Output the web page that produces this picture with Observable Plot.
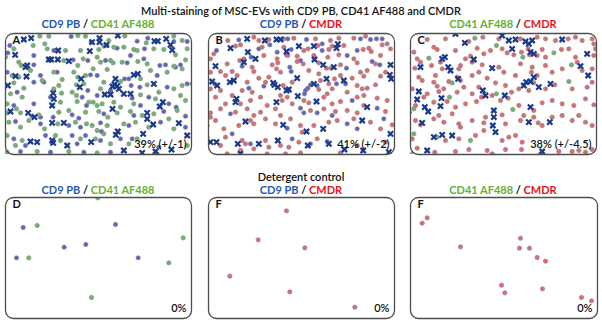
<!DOCTYPE html>
<html><head><meta charset="utf-8">
<script src="https://cdn.jsdelivr.net/npm/d3@7"></script>
<script src="https://cdn.jsdelivr.net/npm/@observablehq/plot@0.6"></script>
<style>
body{margin:0;background:#fff;}
#root{position:relative;width:602px;height:324px;background:#fff;font-family:Lato,"Open Sans",sans-serif;overflow:hidden}
.t{position:absolute;text-align:center;font-weight:700;white-space:nowrap;line-height:13px}
.p{position:absolute}
.bl{color:#1f5bb4}.gr{color:#66b032}.rd{color:#e8131b}.bk{color:#111}
</style></head><body>
<div id="root"></div>
<script>
// ---- titles ----
const mainTitle = "Multi-staining of MSC-EVs with CD9 PB, CD41 AF488 and CMDR";
const rowTitle2 = "Detergent control";
const panelLetters = ["A","B","C","D","F","F"];
const panelPercents = ["39% (+/-1)","41% (+/-2)","38% (+/-4.5)","0%","0%","0%"];
const stainPairs = [["CD9 PB","CD41 AF488"],["CD9 PB","CMDR"],["CD41 AF488","CMDR"]];

// ---- field coordinates of detected vesicles (per panel) ----
// Panel A: CD9 PB (blue), CD41 AF488 (green), co-localised (cross)
const aBlue = [[212,33],[272,50],[410,47],[442,38],[520,48],[560,48],[28,60],[22,82],[100,90],[160,75],[318,60],[350,68],[390,90],[432,70],
[100,118],[218,103],[262,105],[315,105],[380,112],[430,100],[478,120],[495,118],[540,118],[20,140],[120,150],[130,170],[170,140],[270,148],[290,150],
[372,160],[385,160],[470,150],[525,125],[560,175],[100,170],[262,195],[330,195],[392,180],[418,185],[500,185],[50,200],[150,215],[245,215],[290,210],
[395,218],[445,215],[505,235],[527,245],[40,240],[100,235],[258,240],[420,240],[95,272],[120,275],[158,275],[215,268],[235,278],[310,265],[400,270],
[490,258],[555,272],[45,288],[120,295],[205,300],[240,305],[300,292],[385,300],[480,290],[555,305],[303,318],[40,340],[75,360],[135,330],[215,330],
[230,355],[255,330],[300,345],[360,340],[395,340],[475,365],[60,378],[150,380],[250,380],[330,380]];
const aGreen = [[118,32],[145,32],[232,30],[255,32],[325,45],[373,32],[437,52],[545,45],[520,32],[40,70],[98,60],[133,55],[140,70],[195,75],[240,75],
[248,100],[295,72],[310,62],[340,65],[370,65],[400,72],[410,75],[460,70],[490,72],[525,88],[560,70],[190,105],[15,95],[55,110],[62,120],[232,120],
[290,95],[300,110],[330,105],[338,112],[365,110],[412,108],[440,115],[520,122],[555,103],[35,150],[55,155],[90,135],[160,140],[185,162],[220,140],
[232,155],[255,150],[278,130],[310,170],[320,132],[420,160],[450,135],[500,140],[545,130],[40,172],[70,188],[125,165],[160,190],[175,180],[228,178],
[250,175],[300,190],[360,168],[440,178],[475,200],[520,190],[545,180],[575,175],[30,205],[65,215],[183,203],[215,200],[228,210],[278,230],[420,208],
[465,220],[540,210],[555,225],[20,235],[180,230],[230,228],[265,230],[290,240],[305,235],[340,230],[360,245],[400,235],[18,262],[48,250],[60,262],
[115,268],[175,260],[205,255],[255,260],[295,258],[322,275],[350,262],[390,258],[425,270],[460,265],[505,280],[530,255],[25,290],[60,305],[85,285],
[132,310],[172,295],[225,290],[258,295],[275,300],[320,300],[370,295],[405,290],[445,305],[520,310],[290,315],[20,330],[45,360],[65,345],[165,330],
[180,345],[240,340],[285,340],[310,325],[330,355],[385,355],[410,340],[20,380],[110,378],[205,378],[290,382],[470,385],[560,360]];
const aCross = [[70,42],[92,38],[275,50],[297,38],[297,50],[352,30],[462,47],[472,47],[497,40],[510,58],[515,74],[173,75],[268,77],[318,58],[44,88],
[145,102],[152,102],[172,102],[205,107],[75,125],[80,120],[45,152],[78,153],[242,160],[238,185],[345,160],[342,177],[350,182],[336,183],[355,190],
[400,148],[412,145],[460,175],[22,180],[158,203],[160,220],[313,207],[330,207],[370,205],[390,205],[487,230],[478,243],[155,240],[30,258],[83,262],
[102,275],[336,250],[440,262],[440,280],[190,292],[155,292],[458,297],[535,293],[346,328],[352,318],[428,325],[90,348],[110,350],[155,345],[158,352],
[200,360],[272,350],[370,375],[425,382],[465,378],[513,372],[560,330]];

// Panel B: CD9 PB (blue), CMDR (red), co-localised (cross)
const bBlue = [[115,43],[48,75],[175,70],[208,58],[230,80],[272,72],[262,40],[318,42],[365,55],[440,90],[470,75],[480,40],[510,42],[528,40],[545,40],
[152,95],[258,88],[365,75],[300,105],[125,122],[268,125],[272,138],[438,128],[515,108],[538,118],[322,188],[315,195],[330,178],[312,205],[350,180],
[408,175],[435,175],[190,182],[145,188],[300,248],[310,262],[350,262],[395,270],[455,225],[530,248],[550,280],[90,265],[260,308],[440,295],[470,310],
[95,325],[150,355],[275,340],[330,355],[380,348]];
const bRed = [[82,45],[160,35],[175,45],[205,42],[250,40],[280,38],[345,40],[390,45],[415,38],[460,38],[495,32],[560,55],[40,85],[105,62],[120,58],
[185,65],[250,65],[310,75],[323,70],[352,60],[385,72],[395,62],[430,60],[488,72],[505,68],[512,78],[545,58],[570,70],[30,100],[130,100],[190,90],
[230,100],[262,90],[290,92],[340,90],[382,95],[415,88],[460,100],[540,90],[118,105],[80,115],[155,125],[215,118],[232,112],[290,108],[308,115],
[355,112],[378,128],[392,128],[420,118],[470,112],[525,115],[555,140],[30,140],[60,138],[95,138],[160,138],[228,130],[240,140],[325,135],[355,145],
[480,140],[500,135],[540,152],[490,152],[455,158],[420,150],[402,160],[385,175],[360,165],[355,192],[275,170],[248,180],[205,155],[195,170],[175,158],
[140,170],[110,150],[75,150],[42,175],[30,190],[60,195],[125,195],[470,180],[485,190],[500,188],[525,178],[395,190],[380,205],[440,200],[45,215],
[75,235],[95,210],[120,235],[150,225],[155,200],[180,215],[200,240],[240,210],[245,225],[260,215],[275,235],[310,225],[325,232],[370,215],[395,235],
[420,228],[470,215],[490,210],[530,218],[560,225],[30,262],[30,275],[60,250],[105,260],[140,250],[160,270],[180,260],[225,250],[240,270],[330,255],
[370,250],[405,258],[440,255],[470,262],[490,240],[555,258],[45,285],[20,300],[70,310],[150,285],[160,295],[115,300],[195,280],[225,295],[270,280],
[300,300],[305,320],[340,300],[385,290],[410,285],[460,280],[510,290],[540,310],[575,298],[75,335],[60,360],[20,335],[125,345],[135,355],[160,370],
[195,345],[205,365],[240,360],[265,365],[295,350],[350,340],[470,360],[555,350],[120,375],[80,385],[300,382],[420,382],[200,385],[255,385]];
const bCross = [[140,40],[193,45],[228,42],[240,42],[295,62],[340,62],[408,68],[412,56],[90,68],[258,78],[142,80],[165,100],[130,110],[45,122],
[342,102],[368,118],[400,125],[570,118],[568,148],[572,160],[290,158],[218,172],[222,178],[232,185],[258,195],[265,192],[340,175],[378,160],
[430,165],[100,165],[88,170],[35,168],[50,180],[108,220],[105,230],[228,230],[292,212],[348,228],[500,245],[485,285],[135,288],[248,298],[318,318],
[368,310],[30,350],[48,350],[112,355],[175,355],[232,345],[322,360],[385,355],[488,375],[432,372],[570,325],[565,380],[120,385]];

// Panel C: CD41 AF488 (green), CMDR (red), co-localised (cross)
const cGreen = [[208,38],[273,60],[70,98],[352,95],[445,82],[498,118],[140,172],[490,168],[273,205],[132,215],[322,252],[25,250],[25,325],[95,335],
[195,345],[20,385]];
const cRed = [[65,42],[120,40],[190,48],[232,35],[280,40],[345,40],[395,35],[420,40],[450,45],[488,40],[510,35],[530,45],[560,40],[565,55],[85,65],
[95,72],[25,80],[45,110],[35,100],[105,110],[150,75],[180,100],[195,92],[215,68],[235,85],[255,75],[290,70],[305,82],[325,88],[348,80],[368,70],
[372,88],[395,90],[410,72],[420,95],[468,72],[490,70],[510,95],[570,70],[565,90],[28,128],[78,120],[110,130],[160,130],[165,120],[200,110],[230,118],
[280,125],[295,140],[345,115],[380,125],[378,140],[530,135],[515,110],[560,130],[470,130],[440,140],[420,120],[40,155],[90,150],[155,155],[200,150],
[245,158],[220,140],[330,150],[395,150],[50,165],[85,170],[95,182],[130,168],[165,165],[175,185],[220,185],[270,172],[300,180],[385,172],[370,195],
[340,190],[448,178],[420,190],[500,190],[545,185],[560,170],[20,190],[65,205],[100,198],[115,190],[155,200],[200,205],[260,210],[318,200],[308,218],
[30,240],[55,215],[85,230],[125,228],[150,245],[180,235],[213,228],[228,215],[285,225],[340,240],[385,255],[410,232],[440,225],[470,235],[505,240],
[540,220],[565,238],[12,260],[30,285],[45,298],[85,280],[100,270],[140,265],[115,290],[160,295],[165,305],[200,285],[235,292],[240,275],[290,268],
[300,295],[345,285],[355,270],[385,275],[398,292],[410,300],[440,275],[470,270],[500,285],[520,270],[540,290],[560,300],[20,340],[120,345],[160,340],
[210,330],[235,315],[290,345],[310,335],[330,330],[350,350],[245,375],[35,368],[88,380],[150,378],[190,372],[260,385],[300,372],[348,372],[405,385],
[460,378],[500,378],[520,375],[540,380],[560,372]];
const cCross = [[150,25],[178,52],[290,30],[310,45],[330,42],[360,48],[370,55],[380,45],[470,42],[110,100],[118,95],[205,102],[320,70],[375,80],
[385,85],[545,85],[45,125],[128,125],[135,135],[260,128],[525,122],[548,150],[385,155],[158,160],[232,195],[240,210],[355,180],[362,170],[375,168],
[400,185],[435,175],[40,198],[298,210],[35,222],[58,245],[68,258],[108,218],[105,242],[375,245],[265,255],[50,292],[265,275],[262,300],[370,290],
[433,290],[85,335],[110,328],[140,330],[270,320],[65,375],[410,378]];

// Detergent controls
const dBlue = [[68,186],[191,245],[256,237],[345,177],[413,277],[48,277]];
const dGreen = [[110,180],[85,277],[273,396],[505,292],[548,217],[292,97]];
const eRed = [[258,136],[173,223],[313,247],[88,332],[268,379],[463,425]];
const fRed = [[65,157],[50,173],[165,244],[345,218],[342,248],[372,248],[395,276],[420,287],[288,359],[298,382],[411,370],[528,396],[558,406]];

const COL = {blue:"#5e62c8", green:"#6db56d", red:"#e06a70", cross:"#1a3a8c"};

// panel layout: page box and the field-of-view origin used for coordinates
const panels = [
 {left:5, top:33, w:186, h:121, ox:0, oy:25, layers:[[aBlue,"blue"],[aGreen,"green"]], cross:aCross},
 {left:208, top:33, w:186, h:121, ox:200, oy:25, layers:[[bBlue,"blue"],[bRed,"red"]], cross:bCross},
 {left:410, top:33, w:186, h:121, ox:405, oy:25, layers:[[cRed,"red"],[cGreen,"green"]], cross:cCross},
 {left:5, top:197, w:186, h:121, ox:0, oy:165, layers:[[dBlue,"blue"],[dGreen,"green"]], cross:[]},
 {left:208, top:197, w:186, h:121, ox:200, oy:165, layers:[[eRed,"red"]], cross:[]},
 {left:410, top:197, w:187, h:121, ox:405, oy:165, layers:[[fRed,"red"]], cross:[]}
];

const root = document.getElementById("root");
function addText(html, cx, cy, size, w){
  const d = document.createElement("div");
  d.className = "t";
  d.style.left = (cx - w/2) + "px"; d.style.width = w + "px";
  d.style.top = (cy - 6.5) + "px"; d.style.fontSize = size + "px";
  d.innerHTML = html; root.appendChild(d);
}
const cls = s => s === "CMDR" ? "rd" : (s.startsWith("CD9") ? "bl" : "gr");
const pairHTML = p => `<span class="${cls(p[0])}">${p[0]}</span><span class="bk"> / </span><span class="${cls(p[1])}">${p[1]}</span>`;

addText(`<span class="bk" style="font-weight:600">${mainTitle}</span>`, 301, 10, 11, 400);
addText(`<span class="bk" style="font-weight:600">${rowTitle2}</span>`, 301, 176, 11, 200);
const centers = [98, 301, 503];
stainPairs.forEach((p,i)=>{ addText(pairHTML(p), centers[i], 23, 11, 180); addText(pairHTML(p), centers[i], 189.5, 11, 180); });

panels.forEach((P,i)=>{
  const m = 2;
  const x0 = (P.left - P.ox)*3, x1 = (P.left + P.w - P.ox)*3;
  const y0 = (P.top - P.oy)*3, y1 = (P.top + P.h - P.oy)*3;
  const marks = [];
  P.layers.forEach(([arr,c])=>{
    marks.push(Plot.dot(arr, {x:d=>d[0], y:d=>d[1], r:2.2, fill:COL[c], stroke:"#8c8c8c", strokeWidth:0.6, clip:true}));
  });
  if (P.cross.length) marks.push(Plot.dot(P.cross, {x:d=>d[0], y:d=>d[1], symbol:"times", r:2.5, stroke:COL.cross, strokeWidth:2.2, clip:true}));
  marks.push(Plot.text([panelLetters[i]], {text:d=>d, frameAnchor:"top-left", dx:7, dy:3, lineAnchor:"top", fontSize:11, fontWeight:700, fill:"#111"}));
  marks.push(Plot.text([panelPercents[i]], {text:d=>d, frameAnchor:"bottom-right", dx:-5, dy:-7, lineAnchor:"bottom", textAnchor:"end", fontSize:11, fontWeight:600, fill:"#111"}));
  marks.push(Plot.frame({rx:8, stroke:"#4d4d4d", strokeWidth:1.3}));
  const svg = Plot.plot({
    width:P.w + 2*m, height:P.h + 2*m, margin:m,
    style:{fontFamily:"Lato, 'Open Sans', sans-serif", background:"transparent", overflow:"visible"},
    x:{domain:[x0,x1], axis:null}, y:{domain:[y0,y1], reverse:true, axis:null},
    marks
  });
  const wrap = document.createElement("div");
  wrap.className = "p";
  wrap.style.left = (P.left - m) + "px"; wrap.style.top = (P.top - m) + "px";
  wrap.appendChild(svg); root.appendChild(wrap);
});
</script></body></html>
